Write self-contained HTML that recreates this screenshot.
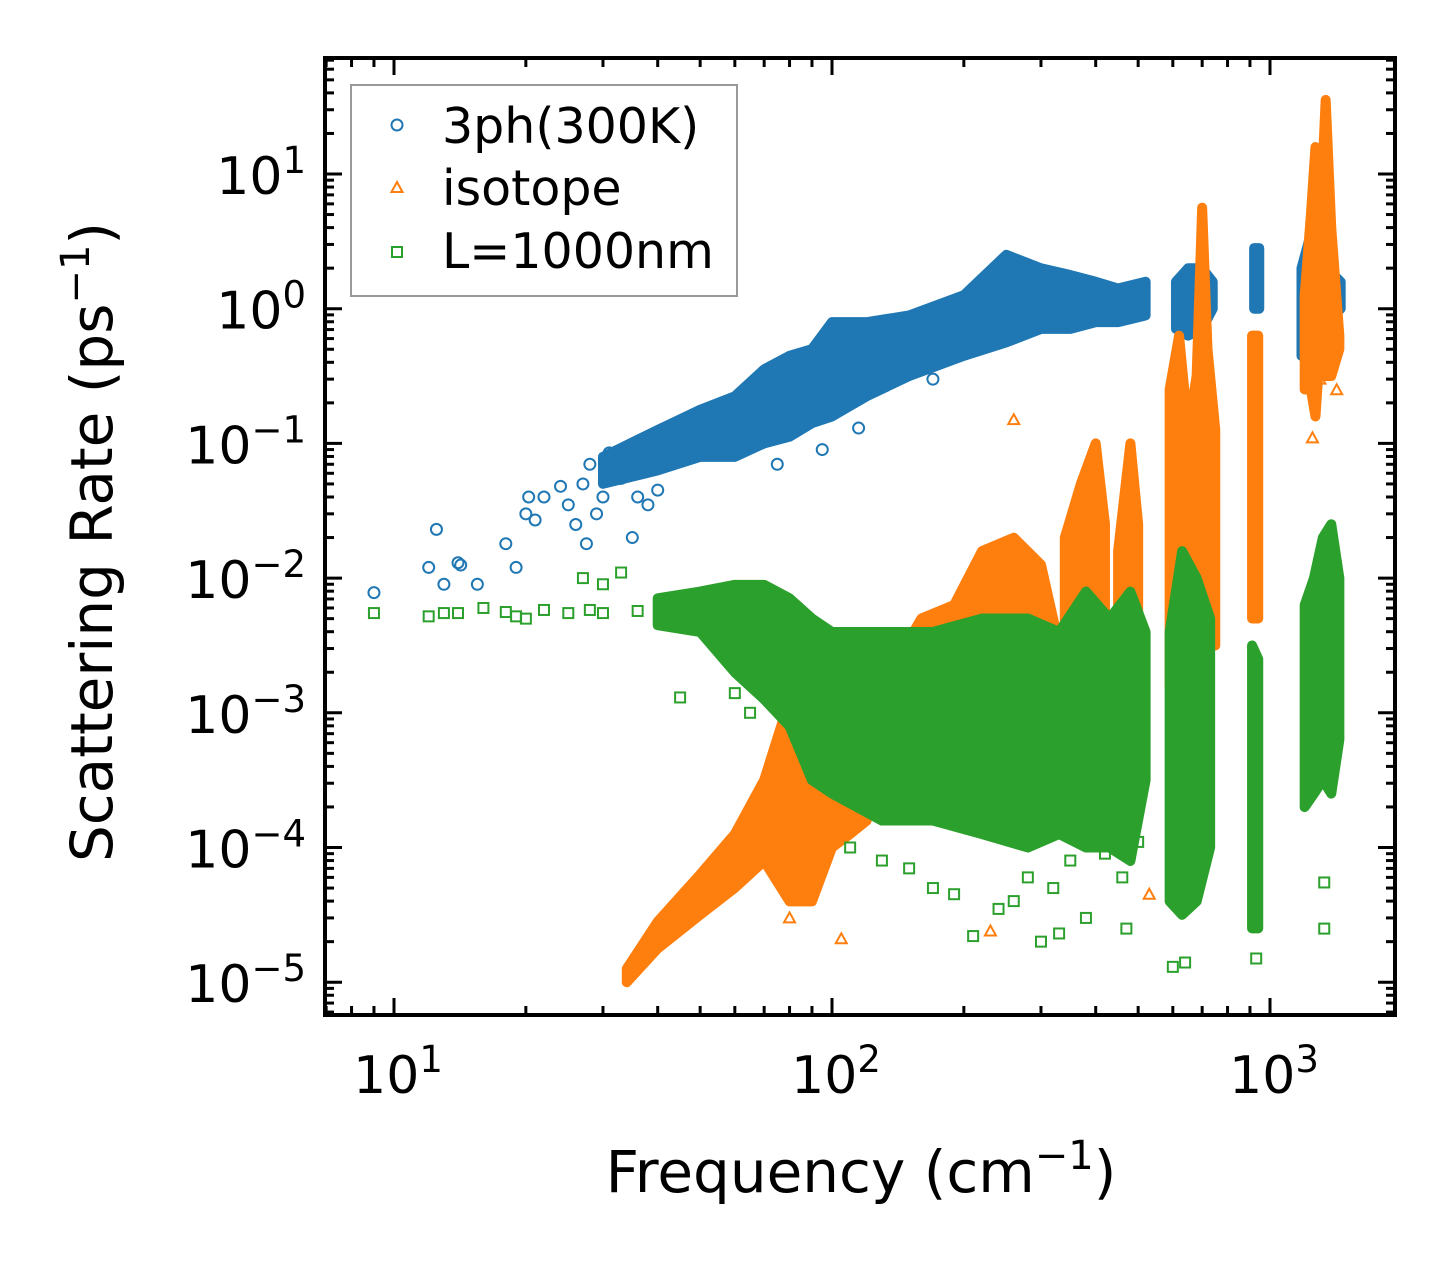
<!DOCTYPE html>
<html><head><meta charset="utf-8"><style>
html,body{margin:0;padding:0;background:#fff;}
svg{display:block;font-family:"DejaVu Sans","Liberation Sans",sans-serif;}
</style></head><body>
<svg id="chart" width="1455" height="1265" viewBox="0 0 1455 1265" xmlns="http://www.w3.org/2000/svg">
<g id="marks"></g>
<g id="axes"></g>
<g>
<rect x="351" y="85" width="386" height="211" fill="#fff" fill-opacity="0.8" stroke="#999" stroke-width="2"/>
<g><circle cx="397" cy="125" r="5.5" fill="none" stroke="#1f77b4" stroke-width="2"/><text x="442" y="143" font-size="49">3ph(300K)</text></g>
<g><polygon points="397,182 391.5,192 402.5,192" fill="none" stroke="#ff7f0e" stroke-width="2"/><text x="442" y="205" font-size="49">isotope</text></g>
<g><rect x="392" y="247" width="10" height="10" fill="none" stroke="#2ca02c" stroke-width="2"/><text x="442" y="268" font-size="49">L=1000nm</text></g>
</g>
<text x="861" y="1192" font-size="58" text-anchor="middle">Frequency (cm<tspan baseline-shift="super" font-size="40">−1</tspan>)</text>
<text transform="translate(112,542) rotate(-90)" font-size="58" text-anchor="middle">Scattering Rate (ps<tspan baseline-shift="super" font-size="40">−1</tspan>)</text>
</svg>
<script>
// ---- data (log10 of rate for band bounds; frequencies in cm^-1) ----
const xTickExps=[1,2,3];
const yTickExps=[1,0,-1,-2,-3,-4,-5];
// 3ph bands
const blueF=[[30,40,50,60,70,80,90,100,120,150,200,250,300,350,400,450,520],[610,650,700,740],[920,945],[1180,1250,1350,1450]];
const blueLo=[[-1.3,-1.2,-1.1,-1.1,-1.0,-0.95,-0.85,-0.8,-0.65,-0.5,-0.35,-0.25,-0.15,-0.15,-0.1,-0.1,-0.05],[-0.15,-0.2,-0.15,0],[0.0,0.0],[-0.35,-0.35,-0.1,0.0]];
const blueHi=[[-1.1,-0.9,-0.75,-0.65,-0.45,-0.35,-0.3,-0.1,-0.1,-0.05,0.1,0.4,0.3,0.25,0.2,0.15,0.2],[0.2,0.3,0.3,0.2],[0.45,0.45],[0.3,0.6,0.3,0.2]];
const blueX=[9,12,12.5,13,14,14.2,15.5,18,19,20,20.3,21,22,24,25,26,27,27.5,28,29,30,31,33,35,36,38,40,75,95,115,170];
const blueY=[0.0078,0.012,0.023,0.009,0.013,0.0125,0.009,0.018,0.012,0.03,0.04,0.027,0.04,0.048,0.035,0.025,0.05,0.018,0.07,0.03,0.04,0.085,0.055,0.02,0.04,0.035,0.045,0.07,0.09,0.13,0.3];
// isotope bands
const orF=[[34,40,50,60,70,80,90,100,110,120],[130,160,190,220,260,300,330],[340,370,400,420],[450,480,500],[590,620,650,680,700,720,750],[910,940],[1200,1240,1270,1300,1340,1380,1440]];
const orLo=[[-5.0,-4.75,-4.5,-4.3,-4.1,-4.4,-4.4,-4.0,-3.9,-3.8],[-3.8,-3.8,-3.6,-3.4,-3.3,-3.2,-3.2],[-3.0,-2.8,-2.6,-2.8],[-2.8,-2.6,-2.8],[-2.8,-2.8,-2.6,-2.5,-2.2,-2.5,-2.5],[-2.3,-2.3],[-0.6,-0.6,-0.8,-0.3,-0.5,-0.5,-0.3]];
const orHi=[[-4.9,-4.55,-4.2,-3.9,-3.5,-2.9,-3.0,-3.0,-3.2,-3.0],[-2.8,-2.3,-2.2,-1.8,-1.7,-1.9,-2.5],[-1.7,-1.3,-1.0,-1.6],[-1.8,-1.0,-1.6],[-0.6,-0.2,-0.9,-0.5,0.75,-0.3,-0.9],[-0.2,-0.2],[0.1,0.7,1.2,0.6,1.55,0.6,-0.2]];
const orX=[260,105,230,80,530,1250,1300,1330,1420];
const orY=[0.15,2.1e-5,2.4e-5,3e-5,4.5e-5,0.11,0.3,0.35,0.25];
// boundary bands
const grF=[[40,50,60,70,80,90,100,130,170,220,280,330,380,430,480,520],[590,630,680,730],[910,940],[1200,1260,1320,1380,1440]];
const grLo=[[-2.35,-2.4,-2.7,-2.9,-3.1,-3.5,-3.6,-3.8,-3.8,-3.9,-4.0,-3.9,-4.0,-4.0,-4.1,-3.5],[-4.4,-4.5,-4.4,-4.0],[-4.6,-4.6],[-3.7,-3.6,-3.5,-3.6,-3.2]];
const grHi=[[-2.15,-2.1,-2.05,-2.05,-2.15,-2.3,-2.4,-2.4,-2.4,-2.3,-2.3,-2.4,-2.1,-2.3,-2.1,-2.4],[-2.4,-1.8,-2.0,-2.3],[-2.5,-2.6],[-2.2,-2.0,-1.7,-1.6,-2.0]];
const grX=[9,12,13,14,16,18,19,20,22,25,27,30,33,45,60,65,210,260,300,330,380,470,600,640,930,1330,1400,1330,150,170,190,240,280,320,350,420,460,500,110,130,36,30,28];
const grY=[0.0055,0.0052,0.0055,0.0055,0.006,0.0056,0.0052,0.005,0.0058,0.0055,0.01,0.009,0.011,0.0013,0.0014,0.001,2.2e-5,4e-5,2e-5,2.3e-5,3e-5,2.5e-5,1.3e-5,1.4e-5,1.5e-5,2.5e-5,6e-4,5.5e-5,7e-5,5e-5,4.5e-5,3.5e-5,6e-5,5e-5,8e-5,9e-5,6e-5,1.1e-4,1e-4,8e-5,0.0057,0.0055,0.0058];

// ---- axes functions ----
const X0=325,X1=1395,Y0=58,Y1=1015;
const pxDec=438, xRef=394;
const pyDec=134.7, yRef=174;
function xs(f){return xRef+(Math.log10(f)-1)*pxDec;}
function ysExp(e){return yRef-(e-1)*pyDec;}
function ys(v){return ysExp(Math.log10(v));}
const NS='http://www.w3.org/2000/svg';
const marks=document.getElementById('marks');
const axes=document.getElementById('axes');
function mk(tag,attrs,parent){const e=document.createElementNS(NS,tag);for(const k in attrs)e.setAttribute(k,attrs[k]);parent.appendChild(e);return e;}

const clip=mk('clipPath',{id:'pc'},marks);
mk('rect',{x:X0,y:Y0,width:X1-X0,height:Y1-Y0},clip);
const plot=mk('g',{'clip-path':'url(#pc)'},marks);

function bands(F,L,H,color,name){
  F.forEach((fs,i)=>{
    const top=fs.map((f,j)=>xs(f)+','+ysExp(H[i][j]));
    const bot=fs.map((f,j)=>xs(f)+','+ysExp(L[i][j])).reverse();
    const p=mk('polygon',{points:top.concat(bot).join(' '),fill:color,stroke:color,'stroke-width':10,'stroke-linejoin':'round'},plot);
    
    
  });
}
function circles(xa,ya,color){xa.forEach((x,i)=>{const c=mk('circle',{cx:xs(x),cy:ys(ya[i]),r:5.5,fill:'none',stroke:color,'stroke-width':2},plot);
  
  });}
function tris(xa,ya,color){xa.forEach((x,i)=>{const cx=xs(x),cy=ys(ya[i]);const t=mk('polygon',{points:`${cx},${cy-5.5} ${cx-5.5},${cy+4.5} ${cx+5.5},${cy+4.5}`,fill:'none',stroke:color,'stroke-width':2},plot);
  
  });}
function squares(xa,ya,color){xa.forEach((x,i)=>{const s=mk('rect',{x:xs(x)-5,y:ys(ya[i])-5,width:10,height:10,fill:'none',stroke:color,'stroke-width':2},plot);
  
  });}

bands(blueF,blueLo,blueHi,'#1f77b4','3ph');
circles(blueX,blueY,'#1f77b4');
bands(orF,orLo,orHi,'#ff7f0e','isotope');
tris(orX,orY,'#ff7f0e');
bands(grF,grLo,grHi,'#2ca02c','boundary');
squares(grX,grY,'#2ca02c');

// ---- ticks ----
const tg=mk('g',{stroke:'#000','stroke-width':3},axes);
for(let d=0;d<=3;d++){for(let m=1;m<10;m++){const f=m*Math.pow(10,d);const x=xs(f);if(x<X0||x>X1)continue;const L=m===1?17:9;
  mk('line',{x1:x,y1:Y1,x2:x,y2:Y1-L},tg);mk('line',{x1:x,y1:Y0,x2:x,y2:Y0+L},tg);}}
for(let d=-6;d<=1;d++){for(let m=1;m<10;m++){const y=ysExp(d+Math.log10(m));if(y<Y0||y>Y1)continue;const L=m===1?17:9;
  mk('line',{x1:X0,y1:y,x2:X0+L,y2:y},tg);mk('line',{x1:X1,y1:y,x2:X1-L,y2:y},tg);}}
mk('rect',{x:X0,y:Y0,width:X1-X0,height:Y1-Y0,fill:'none',stroke:'#000','stroke-width':4},axes);
xTickExps.forEach(e=>{const t=mk('text',{x:xs(Math.pow(10,e))+4,y:1093,'font-size':52,'text-anchor':'middle'},axes);
  
  
  t.innerHTML='10<tspan baseline-shift="super" font-size="37">'+e+'</tspan>';});
yTickExps.forEach(e=>{const t=mk('text',{x:306,y:ysExp(e)+20,'font-size':52,'text-anchor':'end'},axes);
  
  
  t.innerHTML='10<tspan baseline-shift="super" font-size="37">'+(e<0?'−'+(-e):e)+'</tspan>';});
</script>
</body></html>
